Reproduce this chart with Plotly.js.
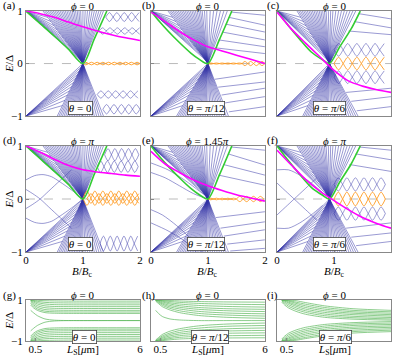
<!DOCTYPE html>
<html>
<head>
<meta charset="utf-8">
<script src="https://cdn.plot.ly/plotly-3.0.1.min.js"></script>
<style>
html, body { margin: 0; padding: 0; background: #fff; }
#plot { width: 393px; height: 356px; }
</style>
</head>
<body>
<div id="plot"></div>
<script>
// panels a..i, read left to right, top to bottom
var panelTags = ['(a)', '(b)', '(c)', '(d)', '(e)', '(f)', '(g)', '(h)', '(i)'];
var phiText = ['0', '0', '0', '<i>π</i>', '1.45<i>π</i>', '<i>π</i>', '0', '0', '0'];
var thetaText = ['0', '<i>π</i>/12', '<i>π</i>/6', '0', '<i>π</i>/12', '<i>π</i>/6', '0', '<i>π</i>/12', '<i>π</i>/6'];

// V shaped level fans, one set per theta (0, pi/12, pi/6)
var nodeX = [1.0, 1.0, 0.92];
var armUL = [0.30, 0.30, 0.35];
var armUR = [1.42, 1.42, 1.46];
var armBL = [0.55, 0.45, 0.45];
var armBR = [1.40, 1.40, 1.45];
var fanTopA = [0.30, 0.33, 0.36, 0.39, 0.42, 0.45, 0.48, 0.51, 0.54, 0.57, 0.60, 0.63, 0.66, 0.69, 0.72, 0.75, 0.78, 0.81, 0.84, 0.87, 0.90, 0.93, 0.96, 1.00, 1.04, 1.08, 1.12, 1.16, 1.20, 1.24, 1.28, 1.32, 1.36];
var fanBotA = [0.55, 0.58, 0.61, 0.64, 0.67, 0.70, 0.73, 0.76, 0.79, 0.82, 0.85, 0.88, 0.91, 0.94, 0.97, 1.00, 1.04, 1.08, 1.12, 1.16, 1.20, 1.24, 1.28, 1.32, 1.36];
var fanTopB = [0.30, 0.33, 0.36, 0.39, 0.42, 0.45, 0.48, 0.51, 0.54, 0.57, 0.60, 0.63, 0.66, 0.69, 0.72, 0.75, 0.78, 0.81, 0.84, 0.87, 0.90, 0.94, 0.98, 1.04, 1.10, 1.16, 1.22, 1.28, 1.34];
var fanBotB = [0.45, 0.48, 0.51, 0.54, 0.57, 0.60, 0.63, 0.66, 0.69, 0.72, 0.75, 0.78, 0.81, 0.84, 0.87, 0.90, 0.93, 0.96, 1.00, 1.04, 1.08, 1.12, 1.16, 1.20, 1.24, 1.28, 1.32, 1.36];
var fanTopC = [0.35, 0.38, 0.41, 0.44, 0.47, 0.50, 0.53, 0.56, 0.59, 0.62, 0.65, 0.68, 0.71, 0.74, 0.77, 0.80, 0.83, 0.86, 0.90, 0.94, 0.98, 1.03, 1.08, 1.13, 1.18, 1.23, 1.28, 1.33, 1.38];
var fanBotC = [0.45, 0.48, 0.51, 0.54, 0.57, 0.60, 0.63, 0.66, 0.69, 0.72, 0.75, 0.78, 0.81, 0.84, 0.87, 0.90, 0.94, 0.98, 1.02, 1.06, 1.10, 1.14, 1.18, 1.22, 1.26, 1.30, 1.34, 1.38, 1.42];
var fanTop = [fanTopA, fanTopB, fanTopC];
var fanBot = [fanBotA, fanBotB, fanBotC];
// heights where the lines from the corners (0,1) and (0,-1) meet the V arms
var cornUp = [0.08, 0.16, 0.24, 0.32, 0.40, 0.48, 0.56, 0.64, 0.72, 0.80, 0.88];
var cornDn = [0, 0.07, 0.14, 0.21, 0.28, 0.36, 0.44, 0.52, 0.60, 0.70, 0.80];

// green edge level
var greenX = [
  [0, 0.25, 0.5, 0.75, 1.0, 1.2, 1.42],
  [0, 0.15, 0.3, 0.5, 0.7, 0.85, 1.0, 1.2, 1.42],
  [0, 0.2, 0.4, 0.6, 0.8, 0.92, 1.1, 1.3, 1.46]
];
var greenY = [
  [1, 0.76, 0.52, 0.27, 0, 0.47, 1],
  [1, 0.8, 0.62, 0.4, 0.2, 0.08, 0, 0.45, 1],
  [1, 0.72, 0.46, 0.22, 0.07, 0, 0.32, 0.66, 1]
];

// magenta level, per panel a..f
var magX = [0, 0.25, 0.5, 0.75, 1, 1.25, 1.5, 1.75, 2];
var magY = [
  [1, 0.95, 0.88, 0.79, 0.70, 0.62, 0.55, 0.49, 0.44],
  [0.98, 0.80, 0.61, 0.45, 0.32, 0.24, 0.16, 0.08, 0.0],
  [0.98, 0.66, 0.39, 0.13, -0.13, -0.33, -0.43, -0.50, -0.55],
  [1, 0.88, 0.75, 0.63, 0.55, 0.51, 0.48, 0.45, 0.43],
  [0.90, 0.66, 0.50, 0.36, 0.25, 0.16, 0.08, 0.02, -0.04],
  [0.92, 0.64, 0.37, 0.15, -0.03, -0.20, -0.35, -0.46, -0.55]
];

// crossing bands: [xStart, xEnd, high, low, halfPeriod]
var orangeBands = [
  [[1.0, 2.0, 0.025, -0.025, 0.10]],
  [[1.0, 1.6, 0.01, -0.01, 0.10], [1.6, 2.0, 0.04, -0.04, 0.10]],
  [[1.0, 1.95, 0.12, -0.12, 0.16]],
  [[1.0, 2.0, 0.15, -0.12, 0.14], [1.07, 2.0, 0.10, -0.08, 0.14]],
  [[1.0, 1.5, 0.015, -0.015, 0.10], [1.5, 2.0, 0.05, -0.05, 0.12]],
  [[1.0, 1.95, 0.13, -0.13, 0.15]]
];
var blueBands = [
  [[1.40, 2, 0.97, 0.80, 0.13], [1.28, 2, 0.68, 0.56, 0.13], [1.25, 2, -0.52, -0.66, 0.13], [1.35, 2, -0.78, -0.96, 0.13]],
  [],
  [[1.0, 1.95, 0.38, 0.14, 0.16], [1.0, 1.95, -0.14, -0.38, 0.16]],
  [[1.38, 2, 0.95, 0.72, 0.12], [1.25, 2, 0.72, 0.50, 0.12], [1.30, 2, -0.70, -0.98, 0.12]],
  [],
  [[1.0, 1.95, 0.40, 0.15, 0.15], [1.0, 1.95, -0.15, -0.40, 0.15]]
];
// flat levels leaving the right V arm: [yAtArm, yAtB=2]
var rightLines = [
  [],
  [[0.98, 0.92], [0.88, 0.73], [0.75, 0.60], [0.60, 0.45], [0.45, 0.32], [0.30, 0.19], [-0.30, -0.16], [-0.45, -0.35], [-0.60, -0.47], [-0.75, -0.63], [-0.92, -0.82]],
  [[0.95, 0.85], [0.80, 0.68], [0.62, 0.55], [-0.55, -0.47], [-0.72, -0.63], [-0.90, -0.82]],
  [],
  [[0.98, 0.92], [0.85, 0.64], [0.65, 0.45], [0.45, 0.26], [-0.35, -0.24], [-0.55, -0.43], [-0.70, -0.58], [-0.85, -0.77], [-0.98, -0.93]],
  [[0.98, 0.92], [0.85, 0.74], [0.65, 0.52], [-0.55, -0.45], [-0.72, -0.64], [-0.88, -0.80]]
];
// extra sub-gap levels for phi != 0
var leftCurves = [
  [], [], [],
  [
    [[0, 0.12, 0.25, 0.4, 0.6, 0.8], [0.18, 0.10, 0, -0.15, -0.35, -0.55]],
    [[0, 0.12, 0.25, 0.4, 0.6, 0.8], [-0.18, -0.10, 0, 0.15, 0.35, 0.55]],
    [[0, 0.15, 0.3, 0.45, 0.6, 0.8, 1.0], [0.36, 0.44, 0.46, 0.42, 0.32, 0.17, 0]],
    [[0, 0.15, 0.3, 0.45, 0.6, 0.8, 1.0], [-0.36, -0.44, -0.46, -0.42, -0.32, -0.17, 0]]
  ],
  [
    [[0, 0.3, 0.6, 0.85, 1.0], [0.68, 0.55, 0.35, 0.15, 0.03]],
    [[0, 0.25, 0.5, 0.75, 1.0], [0.50, 0.40, 0.25, 0.10, 0]],
    [[0, 0.2, 0.45, 0.7, 0.9], [-0.20, -0.30, -0.50, -0.75, -1]],
    [[0, 0.3, 0.6, 0.8], [-0.45, -0.60, -0.80, -1]]
  ],
  [
    [[0, 0.15, 0.3, 0.5, 0.7], [0.30, 0.15, 0, -0.20, -0.40]],
    [[0, 0.15, 0.3, 0.5, 0.7], [-0.30, -0.15, 0, 0.20, 0.40]],
    [[0, 0.2, 0.4, 0.6, 0.8], [0.55, 0.55, 0.45, 0.30, 0.12]],
    [[0, 0.2, 0.4, 0.6, 0.8], [-0.55, -0.55, -0.45, -0.30, -0.12]]
  ]
];

// bottom row: E vs L_S on a common grid
var lsGrid = [0.25, 0.4, 0.6, 1, 1.5, 2.5, 4, 6];
var levelsG = [
  [1, 1, 0.99, 0.97, 0.96, 0.95, 0.95, 0.95],
  [1, 0.98, 0.94, 0.89, 0.87, 0.86, 0.86, 0.86],
  [1, 0.95, 0.88, 0.81, 0.78, 0.77, 0.77, 0.77],
  [0.98, 0.90, 0.81, 0.72, 0.69, 0.68, 0.68, 0.68],
  [0.95, 0.84, 0.73, 0.63, 0.60, 0.59, 0.59, 0.59],
  [0.90, 0.77, 0.65, 0.54, 0.51, 0.50, 0.50, 0.50],
  [0.84, 0.70, 0.57, 0.46, 0.43, 0.42, 0.42, 0.42],
  [0.76, 0.62, 0.50, 0.39, 0.36, 0.35, 0.35, 0.35],
  [0.50, 0.38, 0.24, 0.08, 0.02, 0, 0, 0],
  [-0.50, -0.38, -0.24, -0.08, -0.02, 0, 0, 0],
  [-0.76, -0.62, -0.50, -0.39, -0.36, -0.35, -0.35, -0.35],
  [-0.84, -0.70, -0.57, -0.46, -0.43, -0.42, -0.42, -0.42],
  [-0.90, -0.77, -0.65, -0.54, -0.51, -0.50, -0.50, -0.50],
  [-0.95, -0.84, -0.73, -0.63, -0.60, -0.59, -0.59, -0.59],
  [-0.98, -0.90, -0.81, -0.72, -0.69, -0.68, -0.68, -0.68],
  [-1, -0.95, -0.88, -0.81, -0.78, -0.77, -0.77, -0.77],
  [-1, -0.98, -0.94, -0.89, -0.87, -0.86, -0.86, -0.86],
  [-1, -1, -0.99, -0.97, -0.96, -0.95, -0.95, -0.95]
];
var levelsH = [
  [1, 1, 1, 0.98, 0.96, 0.93, 0.91, 0.90],
  [1, 1, 0.98, 0.93, 0.89, 0.84, 0.80, 0.78],
  [1, 1, 0.95, 0.87, 0.81, 0.74, 0.69, 0.66],
  [1, 0.98, 0.91, 0.81, 0.73, 0.64, 0.58, 0.55],
  [1, 0.95, 0.86, 0.74, 0.65, 0.55, 0.48, 0.44],
  [1, 0.92, 0.81, 0.67, 0.57, 0.45, 0.37, 0.33],
  [0.98, 0.88, 0.75, 0.60, 0.48, 0.35, 0.27, 0.22],
  [0.95, 0.83, 0.68, 0.52, 0.39, 0.25, 0.16, 0.11],
  [0.50, 0.35, 0.20, 0.08, 0.03, 0, 0, 0],
  [-0.95, -0.83, -0.68, -0.52, -0.40, -0.26, -0.17, -0.12],
  [-0.98, -0.88, -0.75, -0.61, -0.49, -0.37, -0.28, -0.24],
  [-1, -0.92, -0.81, -0.68, -0.58, -0.47, -0.40, -0.36],
  [-1, -0.95, -0.86, -0.75, -0.66, -0.57, -0.51, -0.48],
  [-1, -0.98, -0.91, -0.82, -0.74, -0.67, -0.62, -0.60],
  [-1, -1, -0.95, -0.88, -0.82, -0.77, -0.74, -0.72],
  [-1, -1, -0.98, -0.94, -0.90, -0.87, -0.85, -0.84]
];
var levelsI = [
  [1, 1, 1, 0.97, 0.88, 0.72, 0.58, 0.50],
  [1, 1, 0.98, 0.90, 0.80, 0.64, 0.50, 0.43],
  [1, 1, 0.95, 0.84, 0.72, 0.56, 0.43, 0.36],
  [1, 0.98, 0.90, 0.77, 0.64, 0.48, 0.36, 0.29],
  [1, 0.95, 0.85, 0.70, 0.56, 0.40, 0.29, 0.22],
  [0.98, 0.90, 0.78, 0.62, 0.48, 0.32, 0.21, 0.15],
  [0.95, 0.84, 0.70, 0.54, 0.40, 0.24, 0.14, 0.08],
  [0.90, 0.76, 0.62, 0.45, 0.31, 0.16, 0.07, 0.02],
  [-0.90, -0.76, -0.62, -0.46, -0.33, -0.19, -0.10, -0.05],
  [-0.95, -0.84, -0.70, -0.55, -0.42, -0.27, -0.17, -0.12],
  [-0.98, -0.90, -0.78, -0.63, -0.50, -0.35, -0.24, -0.19],
  [-1, -0.95, -0.85, -0.71, -0.58, -0.43, -0.32, -0.26],
  [-1, -0.98, -0.90, -0.78, -0.66, -0.51, -0.39, -0.33],
  [-1, -1, -0.95, -0.85, -0.74, -0.59, -0.47, -0.40],
  [-1, -1, -0.98, -0.91, -0.82, -0.67, -0.54, -0.47],
  [-1, -1, -1, -0.96, -0.88, -0.74, -0.61, -0.54]
];
var levelsLs = [levelsG, levelsH, levelsI];

var colX = [[0.066, 0.356], [0.384, 0.674], [0.705, 0.995]];
var rowY = [[0.674, 0.969], [0.292, 0.590], [0.042, 0.157]];
var serif = 'Liberation Serif';
var blueCol = '#3434a6';

function axId(a, k) { return k === 0 ? a : a + (k + 1); }

function mk(k, color, w) {
  return {
    x: [], y: [], mode: 'lines', xaxis: axId('x', k), yaxis: axId('y', k),
    line: { color: color, width: w, shape: 'spline', smoothing: 0.8 },
    hoverinfo: 'skip', showlegend: false, connectgaps: false
  };
}

function addPath(tr, xs, ys) {
  for (var i = 0; i < xs.length; i++) {
    tr.x.push(xs[i]);
    tr.y.push(ys[i]);
  }
  tr.x.push(null);
  tr.y.push(null);
}

// two levels crossing back and forth between high and low
function addBand(tr, b) {
  var x0 = b[0], x1 = b[1], hi = b[2], lo = b[3], hp = b[4];
  var mid = (hi + lo) / 2;
  var xs = [], y1 = [], y2 = [];
  for (var j = 0; x0 + j * hp / 2 <= x1 + 1e-9; j++) {
    xs.push(x0 + j * hp / 2);
    if (j % 2 === 0) {
      y1.push(mid); y2.push(mid);
    } else {
      var up = ((j - 1) / 2) % 2 === 0;
      y1.push(up ? hi : lo);
      y2.push(up ? lo : hi);
    }
  }
  addPath(tr, xs, y1);
  addPath(tr, xs, y2);
}

function txt(o) {
  o.showarrow = false;
  if (!o.xanchor) o.xanchor = 'center';
  if (!o.yanchor) o.yanchor = 'middle';
  if (!o.font) o.font = { family: serif, size: 11, color: '#000' };
  return o;
}

var traces = [];
var shapes = [];
var ann = [];
var layout = {
  width: 393, height: 356,
  margin: { l: 0, r: 0, t: 0, b: 0 },
  paper_bgcolor: '#fff', plot_bgcolor: '#fff',
  font: { family: serif, size: 11, color: '#000' },
  showlegend: false
};

for (var k = 0; k < 9; k++) {
  var col = k % 3, row = Math.floor(k / 3);
  var isLs = row === 2;
  layout[(k === 0 ? 'xaxis' : 'xaxis' + (k + 1))] = {
    domain: colX[col], anchor: axId('y', k),
    range: isLs ? [0, 6] : [0, 2],
    tickvals: isLs ? [0.5, 6] : [0, 1, 2],
    showticklabels: row > 0,
    ticklabelstandoff: -2,
    ticks: 'inside', ticklen: 3, tickcolor: '#888',
    showline: true, mirror: true, linecolor: '#888', linewidth: 1,
    showgrid: false, zeroline: false,
    tickfont: { family: serif, size: 11, color: '#000' }
  };
  layout[(k === 0 ? 'yaxis' : 'yaxis' + (k + 1))] = {
    domain: rowY[row], anchor: axId('x', k),
    range: [-1, 1],
    tickvals: isLs ? [-1, 1] : [-1, 0, 1],
    showticklabels: col === 0,
    ticks: 'inside', ticklen: 3, tickcolor: '#888',
    showline: true, mirror: true, linecolor: '#888', linewidth: 1,
    showgrid: false, zeroline: false,
    tickfont: { family: serif, size: 11, color: '#000' }
  };

  if (!isLs) {
    var t = col, nx = nodeX[t];
    shapes.push({
      type: 'line', xref: axId('x', k), yref: axId('y', k), x0: 0, x1: 2, y0: 0, y1: 0,
      line: { color: '#aaa', width: 0.8, dash: 'dash' }, layer: 'below'
    });
    var blue = mk(k, blueCol, 0.5);
    fanTop[t].forEach(function (xt) { addPath(blue, [nx, xt], [0, 1]); });
    fanBot[t].forEach(function (xb) { addPath(blue, [nx, xb], [0, -1]); });
    cornUp.forEach(function (h) { addPath(blue, [0, nx + (armUL[t] - nx) * h], [1, h]); });
    cornDn.forEach(function (h) { addPath(blue, [0, nx + (armBL[t] - nx) * h], [-1, -h]); });
    rightLines[k].forEach(function (p) {
      var y0 = p[0];
      var xe = y0 > 0 ? nx + (armUR[t] - nx) * y0 : nx + (armBR[t] - nx) * (-y0);
      addPath(blue, [xe, 2], [y0, p[1]]);
    });
    blueBands[k].forEach(function (b) { addBand(blue, b); });
    leftCurves[k].forEach(function (c) { addPath(blue, c[0], c[1]); });
    traces.push(blue);

    var orange = mk(k, '#ff9a1f', 0.9);
    orangeBands[k].forEach(function (b) { addBand(orange, b); });
    traces.push(orange);

    var green = mk(k, '#33cc33', 1.6);
    addPath(green, greenX[t], greenY[t]);
    traces.push(green);

    var mag = mk(k, '#ff00ff', 1.6);
    addPath(mag, magX, magY[k]);
    traces.push(mag);
  } else {
    var gr = mk(k, '#5cb85c', 0.7);
    levelsLs[col].forEach(function (ys) { addPath(gr, lsGrid, ys); });
    traces.push(gr);
  }

  // phi title above each panel
  ann.push(txt({
    xref: axId('x', k) + ' domain', yref: axId('y', k) + ' domain', x: 0.5, y: 1,
    yshift: 5, text: '<i>ϕ</i> = ' + phiText[k],
    font: { family: serif, size: 11, color: '#000' }
  }));
  // boxed theta label
  ann.push(txt({
    xref: axId('x', k), yref: axId('y', k),
    x: isLs ? 3.1 : (col === 2 ? 0.92 : 0.96), y: isLs ? -0.78 : -0.85,
    text: '<i>θ</i> = ' + thetaText[k],
    bgcolor: '#fff', bordercolor: '#444', borderwidth: 0.8, borderpad: 0
  }));
  // panel tag
  ann.push(txt({
    xref: 'paper', yref: 'paper', x: [0.003, 0.357, 0.675][col], y: [0.984, 0.606, 0.171][row],
    xanchor: 'left', text: panelTags[k]
  }));
}

// axis titles
[0.822, 0.441, 0.1].forEach(function (yy) {
  ann.push(txt({ xref: 'paper', yref: 'paper', x: 0.024, y: yy, textangle: -90, text: '<i>E</i>/Δ' }));
});
for (var c = 0; c < 3; c++) {
  var cx = (colX[c][0] + colX[c][1]) / 2;
  ann.push(txt({ xref: 'paper', yref: 'paper', x: cx, y: 0.236, text: '<i>B</i>/<i>B</i><sub>c</sub>' }));
  ann.push(txt({ xref: 'paper', yref: 'paper', x: cx, y: 0.016, text: '<i>L</i><sub>S</sub>[<i>μ</i>m]' }));
}

layout.shapes = shapes;
layout.annotations = ann;

Plotly.newPlot('plot', traces, layout, { staticPlot: true, displayModeBar: false });
</script>
</body>
</html>
